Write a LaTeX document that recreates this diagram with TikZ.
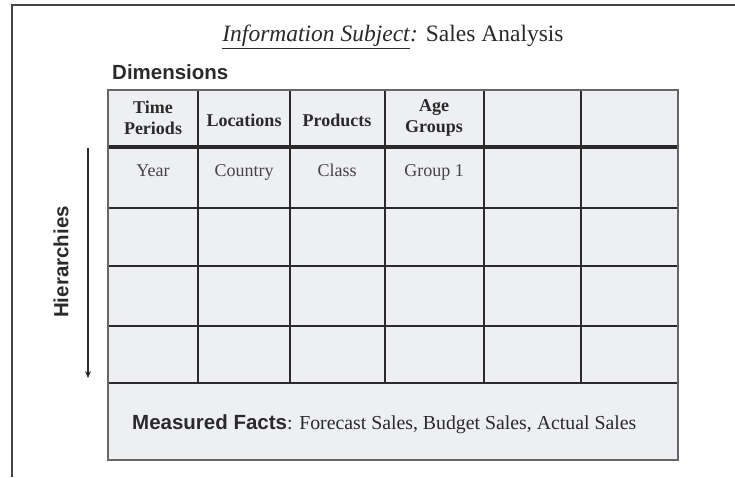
\documentclass[tikz,border=0pt]{standalone}
\usepackage{fontspec}
\setmainfont{Liberation Serif}
\setsansfont{Liberation Sans}
\usetikzlibrary{arrows.meta}
\definecolor{cellbg}{HTML}{EEEFF2}
\definecolor{inkdark}{HTML}{2A2A2A}
\definecolor{inkmid}{HTML}{444444}
\begin{document}
\begin{tikzpicture}[x=1pt,y=-1pt,
  gridline/.style={draw=inkdark, line width=1.5pt},
  head/.style={font=\fontsize{18}{21}\selectfont\bfseries, text=inkdark, align=center, inner sep=0pt},
  cell/.style={font=\fontsize{18}{20}\selectfont, text=inkmid, inner sep=0pt, anchor=base},
  sanslabel/.style={font=\fontsize{20.5}{22}\selectfont\sffamily\bfseries, text=inkdark, inner sep=0pt}
]
\useasboundingbox (0,0) rectangle (735,477);
% outer frame
\draw[inkmid, line width=1.5pt] (12,477) -- (12,5) -- (735,5);
% title
\node[font=\fontsize{23.5}{25}\selectfont, text=inkdark, inner sep=0pt] (title) at (393,37)
  {\underline{\textit{Information Subject}}\textit{:} Sales Analysis};
\node[sanslabel, anchor=west] (dims) at (112,72) {Dimensions};
% table background
\fill[cellbg] (108,90) rectangle (678,460);
% vertical lines
\foreach \xx in {198,290,385,484,581} \draw[gridline] (\xx,90) -- (\xx,383);
% horizontal lines
\foreach \yy in {208,266,326,383} \draw[gridline] (108,\yy) -- (678,\yy);
\draw[inkdark, line width=3.5pt] (108,147) -- (678,147);
% table border
\draw[black!60, line width=1.8pt] (108,90) rectangle (678,460);
% header texts
\node[head] (tp) at (153,118) {Time\\Periods};
\node[head] (loc) at (244,120) {Locations};
\node[head] (prod) at (337,120) {Products};
\node[head] (age) at (434,118) {Age\\Groups};
% first level
\node[cell] (year) at (153,176) {Year};
\node[cell] (country) at (244,176) {Country};
\node[cell] (class) at (337,176) {Class};
\node[cell] (grp) at (434,176) {Group 1};
% hierarchies
\node[sanslabel, rotate=90] (hier) at (61,262) {Hierarchies};
\coordinate (atop) at (88,148);
\coordinate (abot) at (88,378);
\draw[inkdark, line width=2pt, -{Stealth[length=7pt,width=6pt]}] (atop) -- (abot);
% measured facts
\node[anchor=west, inner sep=0pt, text=inkdark] (mf) at (132,424)
  {{\fontsize{20.5}{22}\selectfont\sffamily\bfseries Measured Facts}{\fontsize{19.8}{22}\selectfont: Forecast Sales, Budget Sales, Actual Sales}};
\end{tikzpicture}
\end{document}
